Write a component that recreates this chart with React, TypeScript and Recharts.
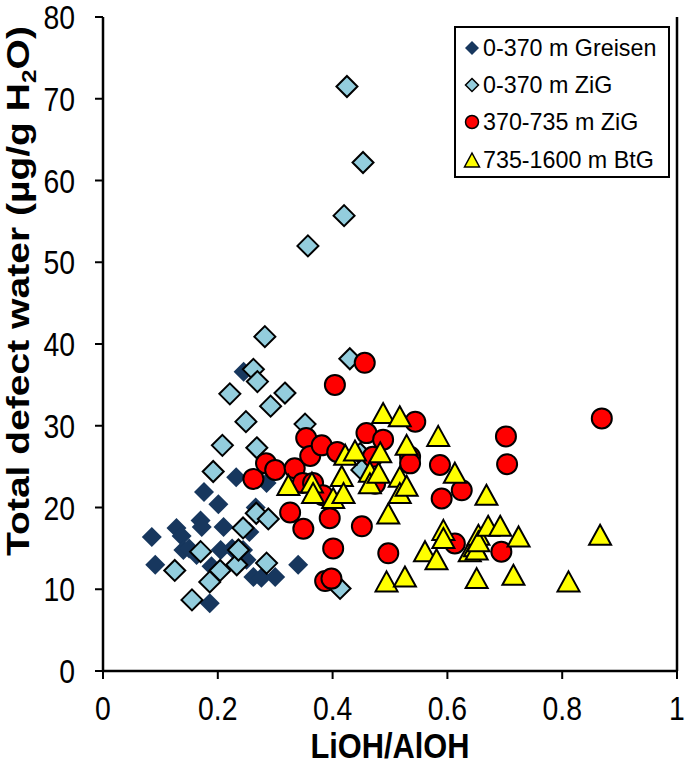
import React from 'react';
import { ScatterChart, Scatter, XAxis, YAxis, ReferenceLine, Legend } from 'recharts';

const FONT = '"Liberation Sans", Arial, sans-serif';

const xTicks = [0, 0.2, 0.4, 0.6, 0.8, 1];
const yTicks = [0, 10, 20, 30, 40, 50, 60, 70, 80];

const seriesNames = ['0-370 m Greisen', '0-370 m ZiG', '370-735 m ZiG', '735-1600 m BtG'];

const greisen = [
  { x: 0.085, y: 16.4 }, { x: 0.091, y: 13.0 }, { x: 0.128, y: 17.5 }, { x: 0.137, y: 16.5 },
  { x: 0.140, y: 14.8 }, { x: 0.150, y: 15.0 }, { x: 0.163, y: 14.2 }, { x: 0.170, y: 18.4 },
  { x: 0.172, y: 17.6 }, { x: 0.176, y: 21.9 }, { x: 0.186, y: 8.3 }, { x: 0.189, y: 12.8 },
  { x: 0.201, y: 20.4 }, { x: 0.205, y: 14.8 }, { x: 0.210, y: 17.6 }, { x: 0.225, y: 15.0 },
  { x: 0.232, y: 23.7 }, { x: 0.244, y: 14.8 }, { x: 0.245, y: 36.6 }, { x: 0.250, y: 13.6 },
  { x: 0.255, y: 17.0 }, { x: 0.262, y: 11.5 }, { x: 0.266, y: 20.0 }, { x: 0.276, y: 11.4 },
  { x: 0.285, y: 23.0 }, { x: 0.300, y: 11.5 }, { x: 0.340, y: 13.0 },
];

const zigShallow = [
  { x: 0.125, y: 12.3 }, { x: 0.155, y: 8.7 }, { x: 0.170, y: 14.6 }, { x: 0.186, y: 10.9 },
  { x: 0.192, y: 24.4 }, { x: 0.204, y: 12.3 }, { x: 0.208, y: 27.6 }, { x: 0.221, y: 33.9 },
  { x: 0.233, y: 13.0 }, { x: 0.236, y: 14.8 }, { x: 0.244, y: 17.5 }, { x: 0.249, y: 30.5 },
  { x: 0.262, y: 36.9 }, { x: 0.267, y: 19.3 }, { x: 0.268, y: 27.3 }, { x: 0.269, y: 35.4 },
  { x: 0.282, y: 40.9 }, { x: 0.285, y: 13.2 }, { x: 0.288, y: 18.6 }, { x: 0.292, y: 32.4 },
  { x: 0.317, y: 34.0 }, { x: 0.352, y: 30.2 }, { x: 0.357, y: 52.0 }, { x: 0.413, y: 10.1 },
  { x: 0.420, y: 55.7 }, { x: 0.425, y: 71.5 }, { x: 0.430, y: 38.2 }, { x: 0.448, y: 26.6 },
  { x: 0.451, y: 24.6 }, { x: 0.453, y: 62.2 },
];

const zigDeep = [
  { x: 0.262, y: 23.5 }, { x: 0.284, y: 25.4 }, { x: 0.300, y: 24.6 }, { x: 0.326, y: 19.4 },
  { x: 0.334, y: 24.8 }, { x: 0.348, y: 23.0 }, { x: 0.349, y: 17.4 }, { x: 0.354, y: 28.5 },
  { x: 0.361, y: 26.3 }, { x: 0.366, y: 23.0 }, { x: 0.381, y: 27.6 }, { x: 0.383, y: 21.5 },
  { x: 0.387, y: 11.0 }, { x: 0.395, y: 18.7 }, { x: 0.398, y: 11.3 }, { x: 0.401, y: 15.0 },
  { x: 0.404, y: 35.0 }, { x: 0.408, y: 26.8 }, { x: 0.451, y: 17.7 }, { x: 0.456, y: 37.7 },
  { x: 0.459, y: 29.1 }, { x: 0.470, y: 26.2 }, { x: 0.474, y: 22.9 }, { x: 0.488, y: 28.3 },
  { x: 0.497, y: 14.4 }, { x: 0.535, y: 26.2 }, { x: 0.535, y: 25.4 }, { x: 0.544, y: 30.5 },
  { x: 0.587, y: 25.2 }, { x: 0.590, y: 21.1 }, { x: 0.613, y: 15.6 }, { x: 0.625, y: 22.1 },
  { x: 0.694, y: 14.6 }, { x: 0.702, y: 28.7 }, { x: 0.704, y: 25.3 }, { x: 0.869, y: 30.9 },
];

const btg = [
  { x: 0.323, y: 22.7 }, { x: 0.364, y: 23.0 }, { x: 0.366, y: 21.7 }, { x: 0.401, y: 21.1 },
  { x: 0.416, y: 23.8 }, { x: 0.419, y: 21.7 }, { x: 0.422, y: 26.4 }, { x: 0.439, y: 26.9 },
  { x: 0.465, y: 24.3 }, { x: 0.465, y: 22.9 }, { x: 0.480, y: 24.2 }, { x: 0.483, y: 26.7 },
  { x: 0.488, y: 31.5 }, { x: 0.494, y: 10.9 }, { x: 0.497, y: 19.2 }, { x: 0.517, y: 31.1 },
  { x: 0.517, y: 23.7 }, { x: 0.517, y: 21.7 }, { x: 0.526, y: 11.5 }, { x: 0.529, y: 27.6 },
  { x: 0.529, y: 22.6 }, { x: 0.561, y: 14.6 }, { x: 0.581, y: 13.6 }, { x: 0.584, y: 28.7 },
  { x: 0.593, y: 17.2 }, { x: 0.593, y: 16.2 }, { x: 0.613, y: 24.2 }, { x: 0.639, y: 14.6 },
  { x: 0.648, y: 15.2 }, { x: 0.651, y: 11.3 }, { x: 0.651, y: 14.8 }, { x: 0.654, y: 16.6 },
  { x: 0.654, y: 15.8 }, { x: 0.668, y: 21.5 }, { x: 0.671, y: 17.7 }, { x: 0.692, y: 17.7 },
  { x: 0.715, y: 11.7 }, { x: 0.724, y: 16.4 }, { x: 0.811, y: 10.9 }, { x: 0.866, y: 16.6 },
];

const COLORS = { greisen: '#17375E', zigShallow: '#93CDDD', zigDeep: '#FF0000', btg: '#FFFF00' };

const DarkDiamond = (p: any) => {
  const { cx, cy } = p;
  const r = 10;
  return <path d={`M${cx},${cy - r}L${cx + r},${cy}L${cx},${cy + r}L${cx - r},${cy}Z`} fill={COLORS.greisen} />;
};
const LightDiamond = (p: any) => {
  const { cx, cy } = p;
  const r = 10.5;
  return <path d={`M${cx},${cy - r}L${cx + r},${cy}L${cx},${cy + r}L${cx - r},${cy}Z`} fill={COLORS.zigShallow} stroke="#000" strokeWidth={2} strokeLinejoin="miter" />;
};
const RedCircle = (p: any) => {
  const { cx, cy } = p;
  return <circle cx={cx} cy={cy} r={10} fill={COLORS.zigDeep} stroke="#000" strokeWidth={2} />;
};
const YellowTriangle = (p: any) => {
  const { cx, cy } = p;
  return <path d={`M${cx},${cy - 10.5}L${cx + 11},${cy + 9.5}L${cx - 11},${cy + 9.5}Z`} fill={COLORS.btg} stroke="#000" strokeWidth={2} strokeLinejoin="miter" />;
};

const legendMarkers = [
  (<svg width="18" height="18"><path d="M9,2L16,9L9,16L2,9Z" fill={COLORS.greisen} /></svg>),
  (<svg width="18" height="18"><path d="M9,2.5L15.5,9L9,15.5L2.5,9Z" fill={COLORS.zigShallow} stroke="#000" strokeWidth={1.5} /></svg>),
  (<svg width="18" height="18"><circle cx="9" cy="9" r="6.5" fill={COLORS.zigDeep} stroke="#000" strokeWidth={1.5} /></svg>),
  (<svg width="18" height="18"><path d="M9,2L16.5,16L1.5,16Z" fill={COLORS.btg} stroke="#000" strokeWidth={1.5} /></svg>),
];

const renderLegend = () => (
  <div style={{ boxSizing: 'border-box', width: 216, height: 152, border: '2px solid #000', background: '#fff', paddingTop: 1 }}>
    {seriesNames.map((n, i) => (
      <div key={n} style={{ display: 'flex', alignItems: 'center', height: 37.3, paddingLeft: 7 }}>
        <div style={{ width: 18, height: 18, marginRight: 2 }}>{legendMarkers[i]}</div>
        <span style={{ fontFamily: FONT, fontSize: 24, color: '#000', whiteSpace: 'nowrap', display: 'inline-block', transform: 'scaleX(0.97)', transformOrigin: 'left center' }}>{n}</span>
      </div>
    ))}
  </div>
);

const XTick = (p: any) => {
  const { x, y, payload } = p;
  return (
    <g transform={`translate(${x},${y})`}>
      <text transform="scale(0.86,1)" x={0} y={41} textAnchor="middle" fontFamily={FONT} fontSize={33} fill="#000">
        {payload.value}
      </text>
    </g>
  );
};

const YTick = (p: any) => {
  const { x, y, payload } = p;
  return (
    <g transform={`translate(${x},${y})`}>
      <text transform="scale(0.86,1)" x={0} y={12} textAnchor="end" fontFamily={FONT} fontSize={33} fill="#000">
        {payload.value}
      </text>
    </g>
  );
};

const YTitle = () => {
  const x = 29;
  const y = 291;
  return (
    <text transform={`translate(${x},${y}) rotate(-90) scale(1.22,1)`} x={0} y={0} textAnchor="middle"
      fontFamily={FONT} fontWeight="bold" fontSize={32} fill="#000">
      Total defect water (µg/g H<tspan fontSize={20} dy={7}>2</tspan><tspan dy={-7}>O)</tspan>
    </text>
  );
};

const XTitle = (props: any) => {
  const vb = props.viewBox || { x: 103, y: 671, width: 574, height: 97 };
  const cx = vb.x + vb.width / 2;
  return (
    <text transform={`translate(${cx},758) scale(0.88,1)`} x={0} y={0} textAnchor="middle"
      fontFamily={FONT} fontWeight="bold" fontSize={35} fill="#000">LiOH/AlOH</text>
  );
};

export default function App() {
  return (
    <div style={{ position: 'absolute', left: 0, top: 0, width: 685, height: 768 }}>
      <ScatterChart width={685} height={768} margin={{ top: 17, right: 8, bottom: 0, left: 0 }}>
        <XAxis type="number" dataKey="x" domain={[0, 1]} ticks={xTicks} height={97}
          axisLine={{ stroke: '#000', strokeWidth: 2.5 }} tickLine={{ stroke: '#000', strokeWidth: 2 }}
          tickSize={8} tickMargin={0} interval={0} allowDataOverflow
          tick={<XTick />}
          label={{ content: (p: any) => <XTitle {...p} /> }} />
        <YAxis type="number" dataKey="y" domain={[0, 80]} ticks={yTicks} width={103}
          axisLine={{ stroke: '#000', strokeWidth: 2.5 }} tickLine={{ stroke: '#000', strokeWidth: 2 }}
          tickSize={8} tickMargin={20} interval={0} allowDataOverflow
          tick={<YTick />}
          label={{ content: () => <YTitle /> }} />
        <ReferenceLine x={1} stroke="#000" strokeWidth={2.5} ifOverflow="visible" />
        <Legend layout="horizontal" verticalAlign="middle" align="center" content={renderLegend}
          wrapperStyle={{ left: 454, top: 26, width: 216, height: 152 }} />
        <Scatter name={seriesNames[0]} data={greisen} shape={DarkDiamond} isAnimationActive={false} />
        <Scatter name={seriesNames[1]} data={zigShallow} shape={LightDiamond} isAnimationActive={false} />
        <Scatter name={seriesNames[2]} data={zigDeep} shape={RedCircle} isAnimationActive={false} />
        <Scatter name={seriesNames[3]} data={btg} shape={YellowTriangle} isAnimationActive={false} />
      </ScatterChart>
    </div>
  );
}
